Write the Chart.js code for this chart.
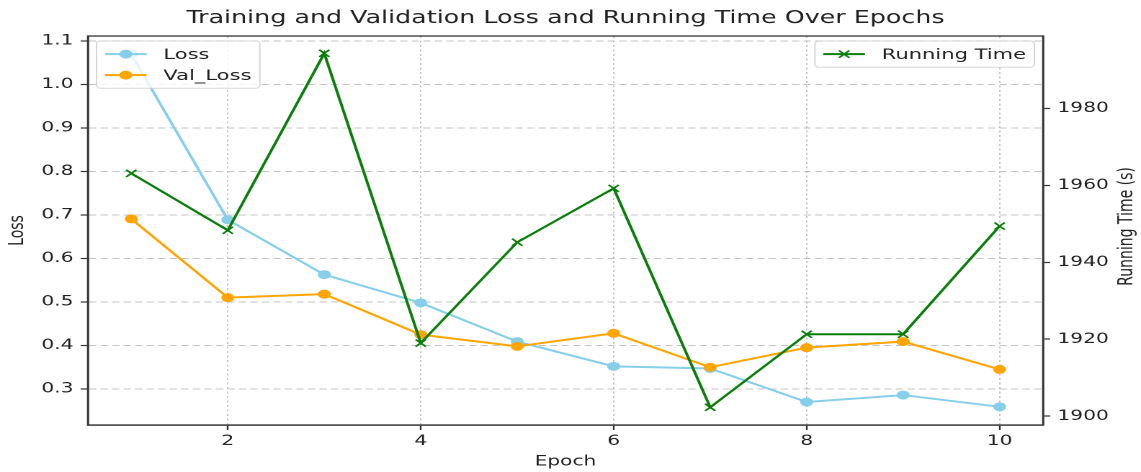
<!DOCTYPE html>
<html><head><meta charset="utf-8">
<script src="https://cdn.jsdelivr.net/npm/chart.js@4/dist/chart.umd.min.js"></script>
<style>
html,body{margin:0;padding:0;background:#fff;overflow:hidden}
#wrap{width:792px;height:472px;transform:scaleX(1.44066);transform-origin:0 0;}
</style></head><body>
<div id="wrap"><canvas id="c" width="792" height="472"></canvas></div>
<script>
const epochs = [1, 2, 3, 4, 5, 6, 7, 8, 9, 10];
const loss = [1.07, 0.689, 0.563, 0.498, 0.409, 0.352, 0.347, 0.270, 0.286, 0.259];
const valLoss = [0.691, 0.510, 0.518, 0.425, 0.398, 0.428, 0.350, 0.395, 0.409, 0.345];
const runningTime = [1963.1, 1948.3, 1994.3, 1919.0, 1945.2, 1959.2, 1902.3, 1921.3, 1921.3, 1949.4];
const epochTicks = [2, 4, 6, 8, 10];
const lossTicks = [0.3, 0.4, 0.5, 0.6, 0.7, 0.8, 0.9, 1.0, 1.1];
const timeTicks = [1900, 1920, 1940, 1960, 1980];

const FONT = "'DejaVu Sans', sans-serif";
const TXT = '#222';
const AXC = '#333';

function pts(ys) { return epochs.map((e, i) => ({ x: e, y: ys[i] })); }

function rr(ctx, x, y, w, h, r) {
  ctx.beginPath(); ctx.moveTo(x + r, y);
  ctx.arcTo(x + w, y, x + w, y + h, r); ctx.arcTo(x + w, y + h, x, y + h, r);
  ctx.arcTo(x, y + h, x, y, r); ctx.arcTo(x, y, x + w, y, r); ctx.closePath();
}
function marker(ctx, ds, cx, cy) {
  if (ds.pointStyle === 'crossRot') {
    const r = ds.pointRadius * 0.72;
    ctx.strokeStyle = ds.borderColor; ctx.lineWidth = ds.pointBorderWidth;
    ctx.beginPath(); ctx.moveTo(cx - r, cy - r); ctx.lineTo(cx + r, cy + r);
    ctx.moveTo(cx - r, cy + r); ctx.lineTo(cx + r, cy - r); ctx.stroke();
  } else {
    ctx.fillStyle = ds.pointBackgroundColor; ctx.beginPath();
    ctx.arc(cx, cy, ds.pointRadius, 0, Math.PI * 2); ctx.fill();
  }
}
function legendBox(chart, list, side) {
  const ctx = chart.ctx, a = chart.chartArea;
  const fs = 14.6, pad = 5.8, hl = 29, tp = 11.6, ls = 6.4, ax = 6;
  ctx.save();
  ctx.font = fs + 'px ' + FONT;
  const tw = Math.max(...list.map(d => ctx.measureText(d.label).width));
  const w = pad + hl + tp + tw + pad;
  const h = pad * 2 + list.length * fs + (list.length - 1) * ls;
  const x = side === 'left' ? a.left + ax : a.right - ax - w;
  const y = a.top + ax - 1;
  rr(ctx, x, y, w, h, 2.8);
  ctx.fillStyle = 'rgba(255,255,255,0.8)'; ctx.fill();
  ctx.strokeStyle = 'rgba(204,204,204,0.8)'; ctx.lineWidth = 1; ctx.stroke();
  list.forEach((d, i) => {
    const cy = y + pad + fs / 2 + i * (fs + ls);
    const hx = x + pad;
    ctx.strokeStyle = d.borderColor; ctx.lineWidth = d.borderWidth;
    ctx.beginPath(); ctx.moveTo(hx, cy); ctx.lineTo(hx + hl, cy); ctx.stroke();
    marker(ctx, d, hx + hl / 2, cy);
    ctx.fillStyle = TXT; ctx.textBaseline = 'middle'; ctx.textAlign = 'left';
    ctx.fillText(d.label, hx + hl + tp, cy + 1);
  });
  ctx.restore();
}

const decor = {
  id: 'decor',
  afterDatasetsDraw(chart) {
    const ctx = chart.ctx, a = chart.chartArea;
    ctx.save();
    ctx.strokeStyle = AXC; ctx.lineWidth = 1.3;
    ctx.strokeRect(a.left, a.top, a.right - a.left, a.bottom - a.top);
    ctx.restore();
    const ds = chart.data.datasets;
    legendBox(chart, ds.filter(d => d.yAxisID === 'y'), 'left');
    legendBox(chart, ds.filter(d => d.yAxisID === 'y2'), 'right');
  },
  afterDraw(chart) {
    const ctx = chart.ctx, a = chart.chartArea;
    ctx.save();
    ctx.font = '14px ' + FONT; ctx.fillStyle = TXT;
    ctx.textAlign = 'center'; ctx.textBaseline = 'middle';
    ctx.translate(chart.width - 9.4, (a.top + a.bottom) / 2 - 4);
    ctx.rotate(-Math.PI / 2);
    ctx.fillText('Running Time (s)', 0, 0);
    ctx.restore();
  }
};

const gridCol = 'rgba(176,176,176,0.75)';

new Chart(document.getElementById('c'), {
  type: 'line',
  data: {
    datasets: [
      { label: 'Loss', data: pts(loss), yAxisID: 'y', order: 2,
        borderColor: '#87CEEB', backgroundColor: '#87CEEB', borderWidth: 2,
        pointStyle: 'circle', pointRadius: 4.5, pointBackgroundColor: '#87CEEB', pointBorderWidth: 0, tension: 0 },
      { label: 'Val_Loss', data: pts(valLoss), yAxisID: 'y', order: 1,
        borderColor: '#FFA500', backgroundColor: '#FFA500', borderWidth: 2,
        pointStyle: 'circle', pointRadius: 4.5, pointBackgroundColor: '#FFA500', pointBorderWidth: 0, tension: 0 },
      { label: 'Running Time', data: pts(runningTime), yAxisID: 'y2', order: 0,
        borderColor: '#0a7d0a', backgroundColor: '#0a7d0a', borderWidth: 2,
        pointStyle: 'crossRot', pointRadius: 5, pointBorderColor: '#0a7d0a', pointBorderWidth: 1.5, tension: 0 }
    ]
  },
  options: {
    responsive: false,
    animation: false,
    devicePixelRatio: 2,
    layout: { padding: 0 },
    plugins: {
      legend: { display: false },
      tooltip: { enabled: false },
      title: {
        display: true, fullSize: false,
        text: 'Training and Validation Loss and Running Time Over Epochs',
        color: TXT, font: { family: FONT, size: 17.6, weight: 'normal' },
        padding: { top: 8, bottom: 6.9 }
      }
    },
    scales: {
      x: {
        type: 'linear', position: 'bottom', min: 0.55, max: 10.45,
        afterBuildTicks: s => { s.ticks = epochTicks.map(v => ({ value: v })); },
        afterFit: s => { s.height = 47; },
        ticks: { color: TXT, font: { family: FONT, size: 14 }, padding: 3, maxRotation: 0, autoSkip: false },
        grid: { color: gridCol, lineWidth: 1, tickLength: 5, tickColor: AXC, tickWidth: 1.2, tickBorderDash: [] },
        border: { display: true, color: AXC, width: 1.3, dash: [2, 2.5] },
        title: { display: true, text: 'Epoch', color: TXT, font: { family: FONT, size: 14 }, padding: { top: 0, bottom: 1.6 } }
      },
      y: {
        type: 'linear', position: 'left', min: 0.2172, max: 1.1115,
        afterBuildTicks: s => { s.ticks = lossTicks.map(v => ({ value: v })); },
        afterFit: s => { s.width = 61; },
        ticks: { color: TXT, font: { family: FONT, size: 14 }, padding: 5, callback: v => v.toFixed(1) },
        grid: { color: gridCol, lineWidth: 1, tickLength: 5, tickColor: AXC, tickWidth: 1.2, tickBorderDash: [] },
        border: { display: true, color: AXC, width: 1.3, dash: [5, 3] },
        title: { display: true, text: 'Loss', color: TXT, font: { family: FONT, size: 14 }, padding: { top: 4, bottom: 0 } }
      },
      y2: {
        type: 'linear', position: 'right', min: 1897.7, max: 1998.8,
        afterBuildTicks: s => { s.ticks = timeTicks.map(v => ({ value: v })); },
        afterFit: s => { s.width = 68; },
        ticks: { color: TXT, font: { family: FONT, size: 14 }, padding: 5, callback: v => String(v) },
        grid: { drawOnChartArea: false, color: gridCol, tickLength: 5, tickColor: AXC, tickWidth: 1.2, tickBorderDash: [] },
        border: { display: true, color: AXC, width: 1.3 },
        title: { display: false }
      }
    }
  },
  plugins: [decor]
});
</script>
</body></html>
